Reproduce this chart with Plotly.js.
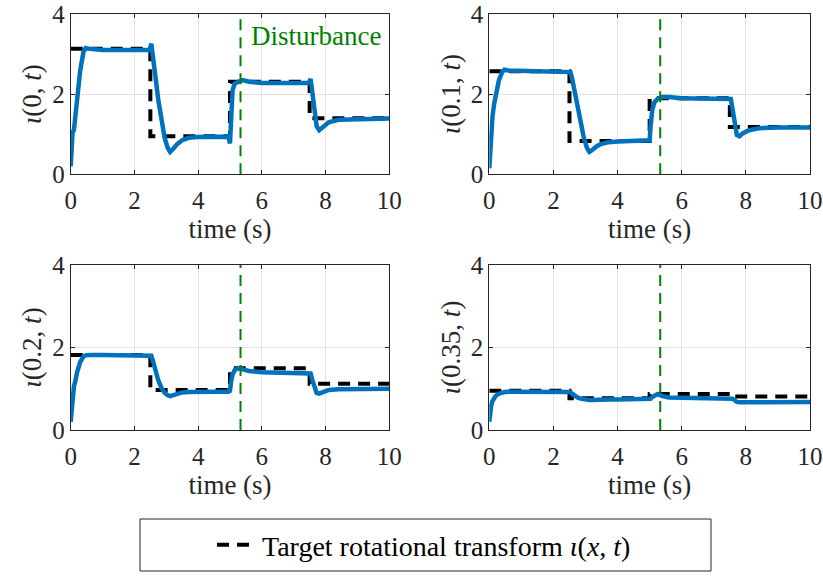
<!DOCTYPE html>
<html>
<head>
<meta charset="utf-8">
<script src="https://cdn.plot.ly/plotly-3.0.1.min.js"></script>
<style>html,body{margin:0;padding:0;background:#fff;}#plot{width:823px;height:577px;}</style>
</head>
<body>
<div id="plot"></div>
<script>
// ---- data ----
const tTarget = [0, 2.5, 2.5, 5, 5, 7.5, 7.5, 10];
const target0   = [3.13, 3.13, 0.95, 0.95, 2.31, 2.31, 1.40, 1.40];
const target01  = [2.57, 2.57, 0.83, 0.83, 1.90, 1.90, 1.18, 1.18];
const target02  = [1.82, 1.82, 0.97, 0.97, 1.50, 1.50, 1.12, 1.12];
const target035 = [0.95, 0.95, 0.77, 0.77, 0.87, 0.87, 0.81, 0.81];

const tSim = [0, 0.03, 0.06, 0.1, 0.15, 0.2, 0.3, 0.4, 0.47, 0.6, 1.0, 2.0, 2.48, 2.53, 2.58, 2.65, 2.75, 2.85, 2.95, 3.05, 3.12, 3.2, 3.35, 3.5, 3.7, 4.0, 4.5, 4.95, 5.0, 5.03, 5.08, 5.15, 5.25, 5.4, 5.6, 6.0, 7.0, 7.48, 7.53, 7.58, 7.65, 7.72, 7.8, 7.9, 8.1, 8.4, 9.0, 10];
const iota0   = [0.2, 0.9, 1.05, 1.1, 1.5, 1.95, 2.6, 3.05, 3.15, 3.13, 3.1, 3.1, 3.1, 3.26, 3.0, 2.5, 1.85, 1.3, 0.9, 0.65, 0.56, 0.62, 0.76, 0.85, 0.91, 0.93, 0.94, 0.94, 0.77, 1.2, 2.1, 2.27, 2.3, 2.35, 2.31, 2.28, 2.28, 2.28, 2.38, 2.0, 1.5, 1.2, 1.1, 1.17, 1.3, 1.36, 1.38, 1.39];
const iota01  = [0.15, 0.7, 1.1, 1.45, 1.75, 2.0, 2.35, 2.55, 2.61, 2.59, 2.58, 2.57, 2.57, 2.55, 2.4, 2.1, 1.65, 1.25, 0.9, 0.65, 0.56, 0.6, 0.7, 0.76, 0.8, 0.82, 0.83, 0.83, 0.85, 1.2, 1.6, 1.8, 1.88, 1.93, 1.93, 1.9, 1.9, 1.9, 1.88, 1.65, 1.25, 0.98, 0.95, 1.02, 1.1, 1.15, 1.17, 1.17];
const iota02  = [0.2, 0.55, 0.85, 1.05, 1.2, 1.4, 1.65, 1.78, 1.81, 1.82, 1.82, 1.82, 1.82, 1.8, 1.68, 1.45, 1.2, 1.02, 0.9, 0.84, 0.82, 0.84, 0.88, 0.91, 0.92, 0.93, 0.93, 0.93, 0.95, 1.15, 1.35, 1.45, 1.5, 1.47, 1.43, 1.4, 1.39, 1.39, 1.37, 1.22, 1.02, 0.9, 0.88, 0.92, 0.97, 0.99, 1.0, 1.0];
const iota035 = [0.2, 0.45, 0.6, 0.7, 0.78, 0.83, 0.88, 0.91, 0.92, 0.93, 0.93, 0.93, 0.93, 0.92, 0.88, 0.83, 0.79, 0.76, 0.74, 0.73, 0.73, 0.73, 0.74, 0.74, 0.74, 0.74, 0.74, 0.74, 0.75, 0.76, 0.8, 0.84, 0.87, 0.82, 0.79, 0.78, 0.78, 0.78, 0.78, 0.76, 0.72, 0.68, 0.67, 0.67, 0.67, 0.68, 0.68, 0.68];

const tDisturb = [5.33, 5.33];
const yDisturb = [0, 4];
const xTicks = [0, 2, 4, 6, 8, 10];
const yTicks = [0, 2, 4];
const yTitles = ['<i>ι</i>(0, <i>t</i>)', '<i>ι</i>(0.1, <i>t</i>)', '<i>ι</i>(0.2, <i>t</i>)', '<i>ι</i>(0.35, <i>t</i>)'];
const targetName = 'Target rotational transform <i>ι</i>(<i>x</i>, <i>t</i>)';
const disturbText = 'Disturbance';

// ---- build ----
const W = 823, H = 577;
const FONT = 'Liberation Serif';
const FS_TICK = 25, FS_LAB = 27;
const blue = '#0072BD', green = '#008000', axc = '#262626';
const targets = [target0, target01, target02, target035];
const sims = [iota0, iota01, iota02, iota035];
const traces = [];
for (let i = 0; i < 4; i++) {
  const xa = i === 0 ? 'x' : 'x' + (i + 1);
  const ya = i === 0 ? 'y' : 'y' + (i + 1);
  traces.push({x: tTarget, y: targets[i], xaxis: xa, yaxis: ya, mode: 'lines', name: targetName,
    line: {color: '#000', width: 4, dash: '12px,8px'}, showlegend: i === 0});
  traces.push({x: tSim, y: sims[i], xaxis: xa, yaxis: ya, mode: 'lines', showlegend: false,
    line: {color: blue, width: 4.5}});
  traces.push({x: tDisturb, y: yDisturb, xaxis: xa, yaxis: ya, mode: 'lines', showlegend: false,
    line: {color: green, width: 2, dash: '11px,7px'}});
}
const xd = [[70.7 / W, 389.3 / W], [489.3 / W, 810 / W]];
const yd = [[1 - 174.3 / H, 1 - 14 / H], [1 - 430 / H, 1 - 265 / H]];
const layout = {
  width: W, height: H, margin: {l: 0, r: 0, t: 0, b: 0},
  paper_bgcolor: '#fff', plot_bgcolor: '#fff',
  font: {family: FONT, size: FS_TICK, color: axc},
  showlegend: true,
  legend: {x: 212 / W, xanchor: 'left', y: 1 - 545 / H, yanchor: 'middle', bgcolor: 'rgba(0,0,0,0)',
    borderwidth: 0, itemwidth: 40, font: {family: FONT, size: 28, color: '#000'}},
  shapes: [{type: 'rect', xref: 'paper', yref: 'paper', x0: 140 / W, x1: 711 / W, y0: 1 - 571 / H, y1: 1 - 519 / H,
    line: {color: axc, width: 1}}],
  annotations: [{xref: 'x', yref: 'y', x: 5.6, y: 3.45, xanchor: 'left', yanchor: 'middle', showarrow: false,
    text: disturbText, font: {family: FONT, size: FS_LAB, color: green}}]
};
for (let i = 0; i < 4; i++) {
  const s = i === 0 ? '' : String(i + 1);
  const col = i % 2, row = Math.floor(i / 2);
  layout['xaxis' + s] = {domain: xd[col], anchor: 'y' + s, range: [0, 10], tickvals: xTicks,
    showgrid: true, gridcolor: '#e3e3e3', zeroline: false, showline: true, linecolor: axc, mirror: 'ticks',
    ticks: 'inside', ticklen: 4, tickcolor: axc, ticklabelstandoff: 4, ticklabeloverflow: 'allow',
    tickfont: {family: FONT, size: FS_TICK, color: axc},
    title: {text: 'time (s)', standoff: 2, font: {family: FONT, size: FS_LAB, color: axc}}};
  layout['yaxis' + s] = {domain: yd[row], anchor: 'x' + s, range: [0, 4], tickvals: yTicks,
    showgrid: true, gridcolor: '#e3e3e3', zeroline: false, showline: true, linecolor: axc, mirror: 'ticks',
    ticks: 'inside', ticklen: 4, tickcolor: axc, ticklabeloverflow: 'allow',
    tickfont: {family: FONT, size: FS_TICK, color: axc},
    title: {text: yTitles[i], standoff: 2, font: {family: FONT, size: FS_LAB, color: axc}}};
}
Plotly.newPlot('plot', traces, layout, {staticPlot: true, displayModeBar: false});
</script>
</body>
</html>
